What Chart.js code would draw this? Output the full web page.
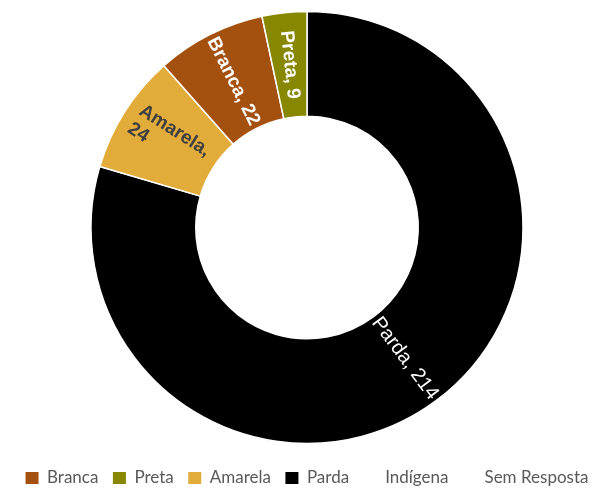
<!DOCTYPE html>
<html lang="pt-BR">
<head>
<meta charset="utf-8">
<title>Cor / Raça</title>
<script src="https://cdn.jsdelivr.net/npm/chart.js@4.4.1/dist/chart.umd.min.js"></script>
<style>
  html, body { margin: 0; padding: 0; background: #fff; overflow: hidden; }
  #wrap { width: 606px; height: 491px; }
</style>
</head>
<body>
<div id="wrap"><canvas id="corChart" width="606" height="491"></canvas></div>
<script>
// fatias na ordem em que são desenhadas (sentido horário a partir do topo)
const categorias = ["Parda", "Amarela", "Branca", "Preta", "Indígena", "Sem Resposta"];
const quantidades = [214, 24, 22, 9, 0, 0];

// ordem da legenda
const ordemLegenda = ["Branca", "Preta", "Amarela", "Parda", "Indígena", "Sem Resposta"];

const cores = {
  "Parda": "#000000",
  "Amarela": "#E2AC3A",
  "Branca": "#A4500E",
  "Preta": "#878700",
  "Indígena": "rgba(0,0,0,0)",
  "Sem Resposta": "rgba(0,0,0,0)"
};
const corTexto = {
  "Amarela": "#404040"
};

// rótulos "Nome, valor" girados no sentido do raio
const rotulosFatias = {
  id: "rotulosFatias",
  afterDatasetsDraw(chart) {
    const { ctx } = chart;
    const meta = chart.getDatasetMeta(0);
    meta.data.forEach((arc, i) => {
      const valor = quantidades[i];
      if (!valor) return;
      const nome = categorias[i];
      const { x, y } = arc.getCenterPoint();
      let ang = (arc.startAngle + arc.endAngle) / 2;
      while (ang > Math.PI / 2) ang -= Math.PI;
      while (ang <= -Math.PI / 2) ang += Math.PI;

      const peso = nome === "Parda" ? "normal" : "bold";
      const tam = nome === "Parda" ? 20 : 19;
      ctx.save();
      ctx.font = `${peso} ${tam}px "Liberation Sans", Arial, sans-serif`;
      const texto = `${nome}, ${valor}`;
      const espessura = arc.outerRadius - arc.innerRadius;
      let linhas = [texto];
      if (ctx.measureText(texto).width > espessura) {
        linhas = [`${nome},`, `${valor}`];
      }
      const largura = Math.max(...linhas.map(l => ctx.measureText(l).width));
      const alturaLinha = 21;
      ctx.translate(x, y);
      ctx.rotate(ang);
      ctx.fillStyle = corTexto[nome] || "#ffffff";
      ctx.textAlign = "left";
      ctx.textBaseline = "middle";
      linhas.forEach((l, k) => {
        const dy = (k - (linhas.length - 1) / 2) * alturaLinha;
        ctx.fillText(l, -largura / 2, dy);
      });
      ctx.restore();
    });
  }
};

const ctx = document.getElementById("corChart").getContext("2d");
new Chart(ctx, {
  type: "doughnut",
  data: {
    labels: categorias,
    datasets: [{
      data: quantidades,
      backgroundColor: categorias.map(c => cores[c]),
      borderColor: "#ffffff",
      borderWidth: 1.5,
      radius: 216,
      cutout: "51.5%",
      rotation: 0
    }]
  },
  options: {
    responsive: false,
    animation: false,
    layout: { padding: { top: 0, left: 8, right: 0, bottom: 0 } },
    plugins: {
      tooltip: { enabled: false },
      legend: {
        position: "bottom",
        maxHeight: 36,
        labels: {
          boxWidth: 13,
          boxHeight: 12,
          padding: 14.5,
          color: "#595959",
          font: { family: "Lato, 'Open Sans', sans-serif", size: 17 },
          sort: (a, b) => ordemLegenda.indexOf(a.text) - ordemLegenda.indexOf(b.text),
          generateLabels: chart =>
            Chart.overrides.doughnut.plugins.legend.labels.generateLabels(chart)
              .map(item => ({ ...item, lineWidth: 0, strokeStyle: "rgba(0,0,0,0)" }))
        }
      }
    }
  },
  plugins: [rotulosFatias]
});
</script>
</body>
</html>
